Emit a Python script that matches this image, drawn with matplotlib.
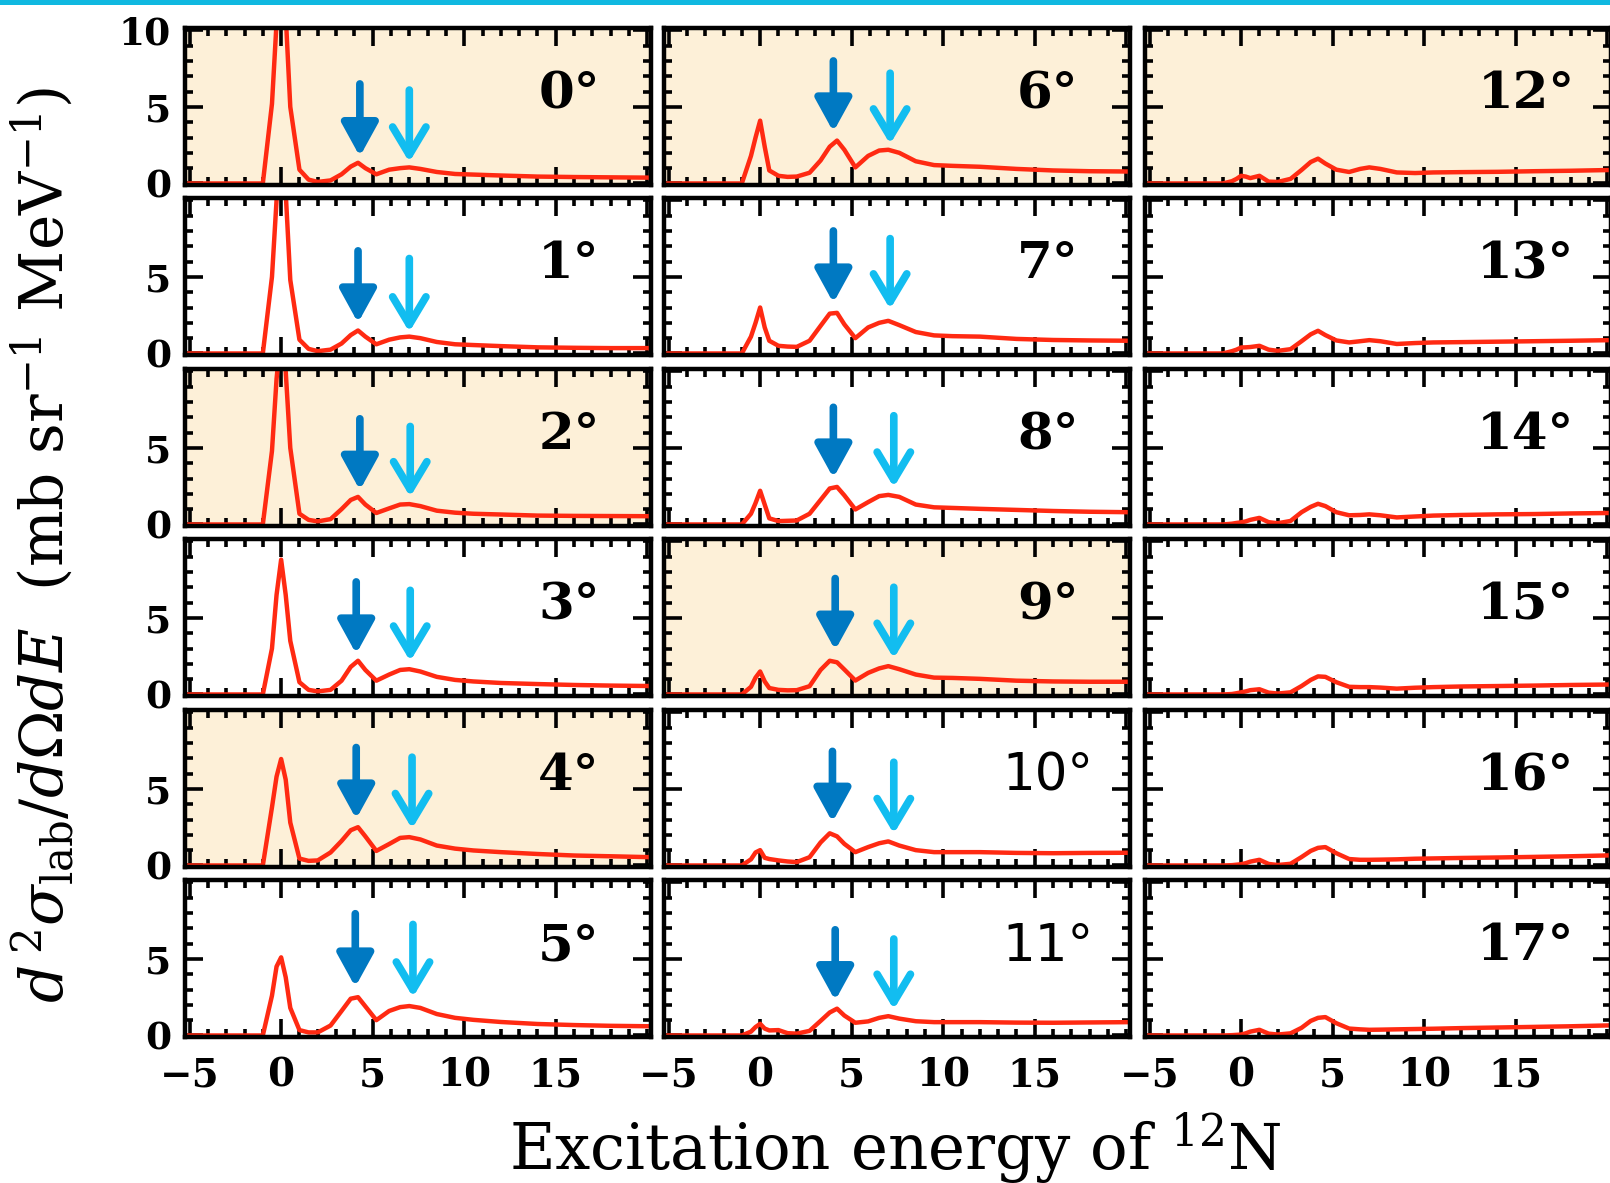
import matplotlib
matplotlib.use("Agg")
import matplotlib.pyplot as plt
from matplotlib.patches import Rectangle
from matplotlib.ticker import MultipleLocator

plt.rcParams["font.family"] = ["DejaVu Serif"]
plt.rcParams["mathtext.fontset"] = "dejavuserif"

# excitation energy grid (MeV)
E = [-5.2, -1.0, -0.5, -0.25, 0.0, 0.25, 0.5, 1.0, 1.5, 2.0, 2.7, 3.3, 3.8, 4.2,
     4.6, 5.2, 5.9, 6.5, 7.0, 7.6, 8.5, 9.5, 10.5, 12.0, 14.0, 16.0, 18.0, 20.2]

# d2sigma/dOmega dE per angle (mb/sr/MeV)
deg0 = [0, 0, 5.2, 10.5, 13.5, 11.0, 5.0, 0.9, 0.25, 0.1, 0.2, 0.6, 1.1, 1.35,
        1.0, 0.6, 0.9, 1.0, 1.05, 0.95, 0.75, 0.62, 0.58, 0.52, 0.45, 0.42, 0.4, 0.38]
deg1 = [0, 0, 5.0, 10.0, 13.0, 10.5, 4.8, 0.9, 0.3, 0.15, 0.25, 0.65, 1.2, 1.5,
        1.1, 0.6, 0.9, 1.05, 1.1, 1.0, 0.75, 0.6, 0.55, 0.48, 0.4, 0.37, 0.35, 0.35]
deg2 = [0, 0, 4.8, 9.5, 12.5, 10.0, 5.0, 0.7, 0.3, 0.2, 0.35, 1.0, 1.6, 1.8,
        1.3, 0.75, 1.05, 1.3, 1.33, 1.2, 0.9, 0.77, 0.7, 0.65, 0.58, 0.56, 0.55, 0.54]
deg3 = [0, 0, 3.0, 6.5, 8.8, 6.5, 3.5, 0.8, 0.3, 0.2, 0.3, 0.9, 1.8, 2.2,
        1.6, 0.9, 1.3, 1.6, 1.65, 1.5, 1.15, 0.95, 0.85, 0.75, 0.68, 0.62, 0.58, 0.55]
deg4 = [0, 0, 3.8, 5.8, 6.95, 5.6, 2.8, 0.45, 0.3, 0.33, 0.85, 1.6, 2.3, 2.5,
        1.9, 0.95, 1.4, 1.8, 1.85, 1.7, 1.3, 1.1, 0.98, 0.87, 0.75, 0.65, 0.6, 0.54]
deg5 = [0, 0, 2.6, 4.5, 5.1, 3.8, 1.8, 0.35, 0.2, 0.2, 0.65, 1.6, 2.4, 2.5,
        1.9, 1.0, 1.6, 1.85, 1.92, 1.8, 1.4, 1.15, 1.02, 0.88, 0.75, 0.68, 0.63, 0.6]
deg6 = [0, 0, 1.8, 3.0, 4.1, 2.4, 0.85, 0.5, 0.43, 0.45, 0.7, 1.5, 2.4, 2.8,
        2.2, 1.05, 1.8, 2.15, 2.2, 2.0, 1.45, 1.2, 1.15, 1.09, 0.95, 0.85, 0.8, 0.78]
deg7 = [0, 0, 1.1, 2.0, 3.0, 1.7, 0.83, 0.5, 0.45, 0.43, 0.83, 1.8, 2.6, 2.65,
        1.9, 1.0, 1.7, 2.0, 2.13, 1.85, 1.4, 1.18, 1.13, 1.1, 0.95, 0.88, 0.85, 0.83]
deg8 = [0, 0, 0.7, 1.4, 2.2, 1.3, 0.4, 0.22, 0.24, 0.26, 0.7, 1.6, 2.35, 2.45,
        1.9, 0.98, 1.46, 1.85, 1.93, 1.8, 1.3, 1.12, 1.08, 1.02, 0.95, 0.88, 0.83, 0.8]
deg9 = [0, 0, 0.5, 1.1, 1.5, 0.85, 0.42, 0.3, 0.27, 0.28, 0.54, 1.6, 2.2, 2.1,
        1.63, 0.91, 1.41, 1.7, 1.85, 1.65, 1.3, 1.1, 1.08, 1.02, 0.9, 0.85, 0.83, 0.83]
deg10 = [0, 0, 0.4, 0.85, 1.0, 0.5, 0.42, 0.33, 0.26, 0.22, 0.54, 1.5, 2.1, 1.9,
         1.41, 0.87, 1.2, 1.45, 1.57, 1.3, 1.0, 0.87, 0.87, 0.87, 0.82, 0.8, 0.82, 0.83]
deg11 = [0, 0, 0.25, 0.55, 0.76, 0.45, 0.33, 0.35, 0.15, 0.12, 0.3, 0.95, 1.5, 1.75,
         1.3, 0.83, 0.92, 1.15, 1.26, 1.1, 0.93, 0.87, 0.87, 0.87, 0.84, 0.83, 0.85, 0.87]
deg12 = [0, 0, 0.15, 0.3, 0.5, 0.45, 0.35, 0.5, 0.12, 0.1, 0.3, 0.88, 1.4, 1.62,
         1.3, 0.9, 0.75, 0.95, 1.05, 0.95, 0.72, 0.68, 0.72, 0.74, 0.76, 0.8, 0.83, 0.88]
deg13 = [0, 0, 0.15, 0.25, 0.39, 0.4, 0.42, 0.5, 0.25, 0.17, 0.28, 0.8, 1.25, 1.48,
         1.2, 0.85, 0.72, 0.8, 0.87, 0.8, 0.62, 0.68, 0.72, 0.74, 0.77, 0.8, 0.83, 0.87]
deg14 = [0, 0, 0.05, 0.1, 0.14, 0.2, 0.3, 0.43, 0.15, 0.08, 0.23, 0.8, 1.15, 1.35,
         1.2, 0.8, 0.6, 0.62, 0.66, 0.6, 0.46, 0.52, 0.58, 0.62, 0.66, 0.68, 0.72, 0.75]
deg15 = [0, 0, 0.03, 0.08, 0.14, 0.2, 0.28, 0.34, 0.12, 0.06, 0.14, 0.55, 0.95, 1.18,
         1.15, 0.8, 0.5, 0.48, 0.48, 0.45, 0.38, 0.44, 0.48, 0.52, 0.55, 0.58, 0.62, 0.65]
deg16 = [0, 0, 0.02, 0.05, 0.08, 0.15, 0.25, 0.37, 0.1, 0.03, 0.11, 0.55, 0.95, 1.15,
         1.2, 0.8, 0.42, 0.37, 0.37, 0.38, 0.4, 0.44, 0.46, 0.49, 0.52, 0.56, 0.6, 0.66]
deg17 = [0, 0, 0.02, 0.04, 0.06, 0.14, 0.25, 0.37, 0.12, 0.06, 0.14, 0.5, 0.95, 1.15,
         1.2, 0.8, 0.45, 0.4, 0.37, 0.38, 0.4, 0.42, 0.44, 0.48, 0.52, 0.56, 0.6, 0.66]

spectra = [deg0, deg1, deg2, deg3, deg4, deg5, deg6, deg7, deg8,
           deg9, deg10, deg11, deg12, deg13, deg14, deg15, deg16, deg17]
angles = list(range(18))
shaded = [0, 2, 4, 6, 9, 12]

# arrows (angles 0-11): x position, top and tip of each arrow
dark_x = [4.3, 4.2, 4.3, 4.1, 4.1, 4.05, 4.0, 4.0, 4.0, 4.1, 3.95, 4.1]
dark_top = [6.5, 6.7, 6.9, 7.35, 7.7, 7.95, 8.0, 8.0, 7.65, 7.57, 7.45, 6.9]
dark_tip = [1.76, 2.0, 2.24, 2.65, 3.04, 3.17, 3.37, 3.3, 3.04, 2.9, 2.83, 2.28]
light_x = [7.0, 7.0, 7.05, 7.05, 7.15, 7.2, 7.1, 7.1, 7.3, 7.3, 7.3, 7.3]
light_top = [6.1, 6.2, 6.4, 6.8, 7.07, 7.25, 7.2, 7.5, 7.1, 7.0, 6.74, 6.3]
light_tip = [1.39, 1.4, 1.8, 2.17, 2.4, 2.5, 2.57, 2.9, 2.43, 2.35, 2.07, 1.7]

W, H = 1610, 1183
fig = plt.figure(figsize=(W / 100, H / 100), dpi=100)

col_left = [185, 664, 1145]
panel_w = 466
row_top = [28, 198, 369, 539, 710, 880]
panel_h = 157

red = "#ff2a12"
dark_blue = "#0079c2"
light_blue = "#12bdf0"

for k, ang in enumerate(angles):
    col = k // 6
    row = k % 6
    x0 = col_left[col] / W
    y0 = 1 - (row_top[row] + panel_h) / H
    ax = fig.add_axes([x0, y0, panel_w / W, panel_h / H])
    if ang in shaded:
        ax.set_facecolor("#fdf0d8")
    ax.plot(E, spectra[k], color=red, lw=3.2, solid_joinstyle="round")
    ax.set_xlim(-5.25, 20.2)
    ax.set_ylim(-0.1, 10.15)
    ax.xaxis.set_major_locator(MultipleLocator(5))
    ax.xaxis.set_minor_locator(MultipleLocator(1))
    ax.yaxis.set_major_locator(MultipleLocator(5))
    ax.yaxis.set_minor_locator(MultipleLocator(1))
    ax.tick_params(which="both", direction="in", top=True, right=True, width=2.6)
    ax.tick_params(which="major", length=13)
    ax.tick_params(which="minor", length=6)
    for s in ax.spines.values():
        s.set_linewidth(3.2)

    if col == 0:
        ax.set_yticks([0, 5, 10] if row == 0 else [0, 5])
        ax.set_yticklabels(["0", "5", "10"] if row == 0 else ["0", "5"],
                           fontsize=27, fontweight="bold")
        ax.tick_params(axis="y", pad=10)
    else:
        ax.set_yticklabels([])
    if row == 5:
        ax.set_xticks([-5, 0, 5, 10, 15])
        ax.set_xticklabels(["\u22125", "0", "5", "10", "15"], fontsize=28,
                           fontweight="bold")
        ax.tick_params(axis="x", pad=14)
    else:
        ax.set_xticklabels([])

    label = f"{ang}\u00b0"
    fam = "DejaVu Sans" if ang in (10, 11) else "DejaVu Serif"
    ax.text(18.2 if ang >= 10 else 17.4, 5.8, label, ha="right", va="center",
            fontsize=37, fontweight="bold" if ang not in (10, 11) else "normal",
            family=fam)

    if ang < 12:
        ax.annotate("", xy=(dark_x[k], dark_tip[k]), xytext=(dark_x[k], dark_top[k]),
                    arrowprops=dict(arrowstyle="-|>,head_length=1.0,head_width=0.55",
                                    lw=5.5, color=dark_blue, mutation_scale=20,
                                    shrinkA=0, shrinkB=0))
        ax.annotate("", xy=(light_x[k], light_tip[k]), xytext=(light_x[k], light_top[k]),
                    arrowprops=dict(arrowstyle="->,head_length=1.0,head_width=0.6",
                                    lw=5.5, color=light_blue, mutation_scale=20,
                                    shrinkA=0, shrinkB=0))

fig.text(42 / W, 1 - 545 / H,
         r"$d^{\,2}\sigma_{\rm lab}/d\Omega dE$  (mb sr$^{-1}$ MeV$^{-1}$)",
         rotation=90, ha="center", va="center", fontsize=43)
fig.text(895 / W, 1 - 1148 / H, r"Excitation energy of $^{12}$N",
         ha="center", va="center", fontsize=45)

fig.add_artist(Rectangle((0, 1 - 5 / H), 1, 5 / H, transform=fig.transFigure,
                         color="#10b8e0", lw=0))

fig.savefig("out.png", dpi=100)
